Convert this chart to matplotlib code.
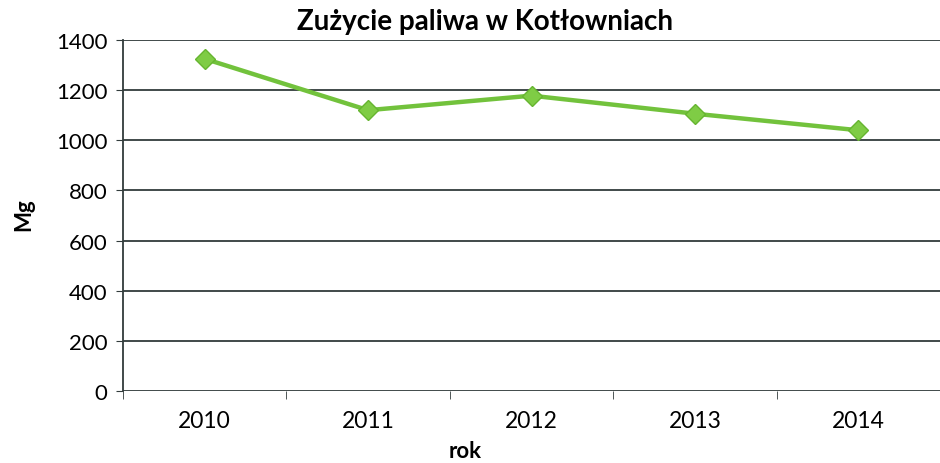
import matplotlib
matplotlib.use("Agg")
import matplotlib.pyplot as plt
import numpy as np

plt.rcParams['font.family'] = ['Lato', 'DejaVu Sans']

years = ["2010", "2011", "2012", "2013", "2014"]
fuel_mg = [1325, 1120, 1178, 1106, 1040]
y_ticks = [0, 200, 400, 600, 800, 1000, 1200, 1400]

fig = plt.figure(figsize=(9.4, 4.64), dpi=100)
ax = fig.add_axes([123 / 940, 1 - 392 / 464, 1 - 123 / 940, (392 - 41) / 464])

x = np.arange(len(years))
ax.plot(x, fuel_mg, color="#72c23c", lw=3.2, marker="D", ms=10,
        mec="#66b530", mfc="#7fcc45", zorder=3)

ax.set_ylim(0, 1400)
ax.set_yticks(y_ticks)
ax.set_xlim(-0.5, 4.45)
ax.set_xticks(x)
ax.set_xticklabels(years)
ax.set_xticks(np.arange(-0.5, len(years), 1), minor=True)

ax.grid(axis="y", color="#323c3c", lw=1.3)
ax.set_axisbelow(True)
for s in ["top", "right", "bottom"]:
    ax.spines[s].set_visible(False)
ax.spines["left"].set_color("#323c3c")
ax.spines["left"].set_linewidth(1.3)

ax.tick_params(axis="y", labelsize=16, length=5, color="#323c3c", pad=6)
ax.tick_params(axis="x", which="major", length=0, labelsize=16.5, pad=14)
ax.tick_params(axis="x", which="minor", length=6, color="#323c3c")

ax.set_ylabel("Mg", fontsize=16, fontweight="bold", va="center")
ax.set_xlabel("rok", fontsize=16, fontweight="bold", va="center")
ax.xaxis.set_label_coords((465 - 123) / (940 - 123), -60 / 351)
ax.yaxis.set_label_coords(-(123 - 24) / (940 - 123), (392 - 215) / 351)

fig.text(485 / 940, 1 - 22 / 464, "Zużycie paliwa w Kotłowniach",
         fontsize=20, fontweight="bold", ha="center", va="center")

fig.savefig("out.png", dpi=100, facecolor="white")
